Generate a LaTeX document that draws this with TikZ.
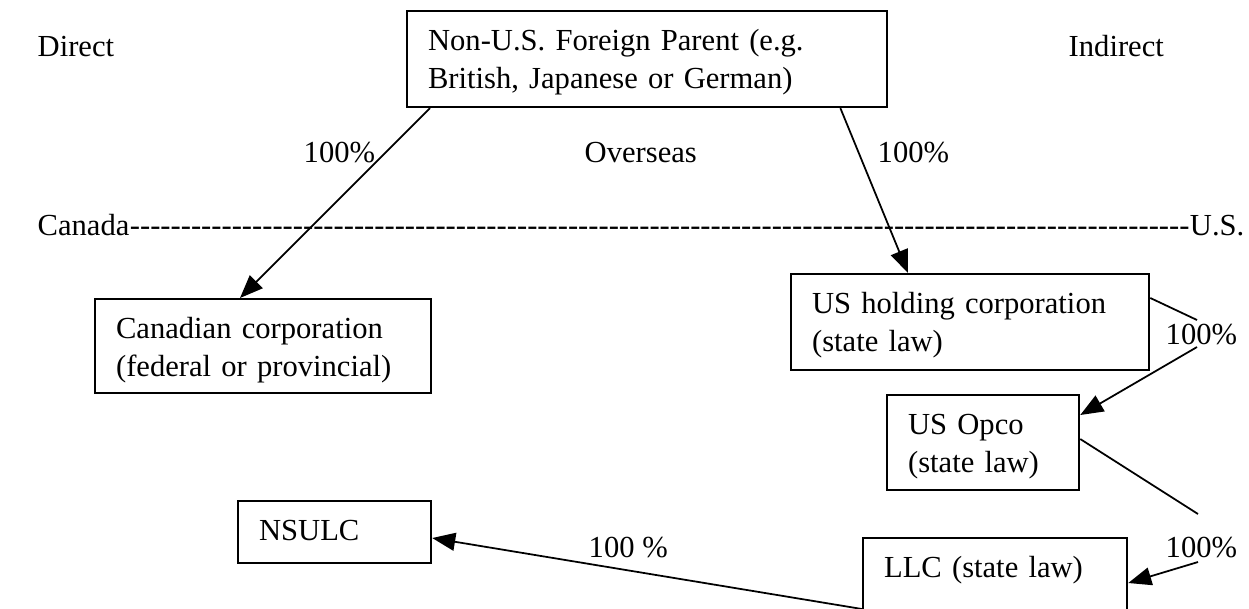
\documentclass[tikz,border=0pt]{standalone}
\usepackage{fontspec}
\setmainfont{Liberation Serif}
\usetikzlibrary{arrows.meta,calc}

\begin{document}
\begin{tikzpicture}[x=0.01cm, y=-0.01cm,
    every node/.style={font=\fontsize{8.7}{10.8}\selectfont},
    entity/.style={draw, line width=0.6pt, align=left, anchor=north west,
      inner xsep=0.21cm, inner ysep=0pt, text height=0.39cm},
    share/.style={line width=0.5pt, -{Triangle[length=0.23cm,width=0.18cm]}},
    link/.style={line width=0.5pt},
    lbl/.style={inner sep=0pt, anchor=base west}]
  % page frame (the LLC box runs off the bottom)
  \useasboundingbox (0,0) rectangle (1249,608);
  \clip (0,0) rectangle (1249,608);

  % Entities
  \node[entity, text width=4.38cm, text depth=0.57cm] (parent) at (406,10)
    {Non-U.S. Foreign Parent (e.g.\\British, Japanese or German)};
  \node[entity, text width=2.94cm, text depth=0.55cm] (cdn) at (94,298)
    {Canadian corporation\\(federal or provincial)};
  \node[entity, text width=3.16cm, text depth=0.57cm] (hold) at (790,273)
    {US holding corporation\\(state law)};
  \node[entity, text width=1.50cm, text depth=0.56cm] (opco) at (886,394)
    {US Opco\\(state law)};
  \node[entity, text width=1.51cm, text depth=0.23cm] (nsulc) at (237,500)
    {NSULC};
  \node[entity, text width=2.22cm, text depth=0.65cm] (llc) at (862,537)
    {LLC (state law)};

  % Labels
  \node[lbl] (direct) at (37,56) {Direct};
  \node[lbl] (indirect) at (1068,56) {Indirect};
  \node[lbl] (overseas) at (584,162) {Overseas};
  \node[lbl] (pctcdn) at (303,162) {100\%};
  \node[lbl] (pcthold) at (877,162) {100\%};
  \node[lbl] (pctopco) at (1165,344) {100\%};
  \node[lbl] (pctllc) at (1165,557) {100\%};
  \node[lbl] (pctnsulc) at (588,557) {100 \%};
  \node[lbl] (border) at (37,235)
    {\hbox to 12.06cm{Canada\cleaders\hbox{-}\hfill U.S.}};

  % bend points beside the right hand labels
  \coordinate (k1) at (1197,320);
  \coordinate (k2) at (1197,347);
  \coordinate (k3) at (1198,514);
  \coordinate (k4) at (1198,562);

  % Ownership lines
  \draw[share] ($(parent.south west)+(24,0)$) -- ($(cdn.north west)+(146,0)$);
  \draw[share] ($(parent.south east)+(-48,0)$) -- ($(hold.north west)+(118,0)$);
  \draw[link] ($(hold.north east)+(0,25)$) -- (k1);
  \draw[share] (k2) -- ($(opco.north east)+(0,21)$);
  \draw[link] ($(opco.north east)+(0,45)$) -- (k3);
  \draw[share] (k4) -- ($(llc.north east)+(0,46)$);
  \draw[share] ($(llc.north west)+(0,72)$) -- ($(nsulc.north east)+(0,38)$);

\end{tikzpicture}
\end{document}
